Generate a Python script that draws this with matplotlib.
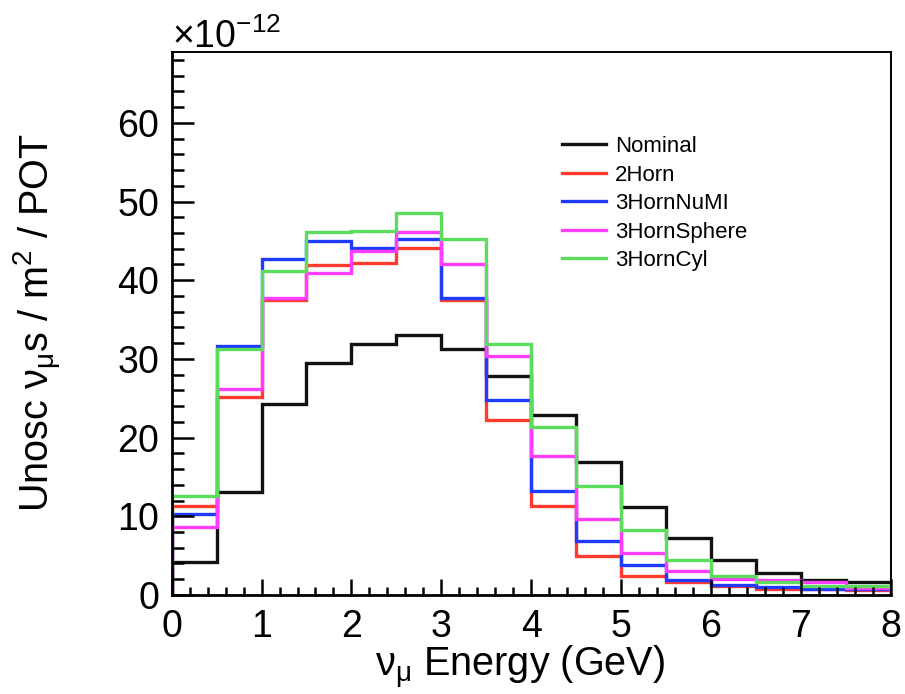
import numpy as np
import matplotlib
matplotlib.use('Agg')
import matplotlib.pyplot as plt
from matplotlib.lines import Line2D
from matplotlib.ticker import MultipleLocator

plt.rcParams['font.family'] = ['Liberation Sans', 'DejaVu Sans']
plt.rcParams['mathtext.fontset'] = 'custom'
plt.rcParams['mathtext.rm'] = 'Liberation Sans'
plt.rcParams['mathtext.it'] = 'Liberation Sans:italic'
plt.rcParams['mathtext.default'] = 'regular'

# 0.5 GeV bins from 0 to 8 GeV
edges = np.arange(0, 8.01, 0.5)

# unoscillated numu flux per m^2 per POT, in units of 1e-12
nominal = [4.2, 13.1, 24.3, 29.5, 31.9, 33.0, 31.2, 27.8, 22.9, 16.9, 11.2, 7.2, 4.4, 2.85, 1.9, 1.6]
two_horn = [11.3, 25.1, 37.5, 41.9, 42.2, 44.1, 37.5, 22.3, 11.3, 4.9, 2.4, 1.6, 1.1, 0.7, 0.7, 0.6]
three_horn_numi = [10.3, 31.6, 42.7, 45.0, 44.1, 45.3, 37.8, 24.8, 13.2, 6.9, 3.8, 1.9, 1.3, 1.0, 0.8, 0.7]
three_horn_sphere = [8.6, 26.2, 37.7, 40.9, 43.7, 46.1, 42.1, 30.4, 17.6, 9.7, 5.3, 3.0, 2.0, 1.9, 1.6, 0.9]
three_horn_cyl = [12.55, 31.2, 41.2, 46.1, 46.2, 48.5, 45.2, 31.9, 21.4, 13.8, 8.2, 4.4, 2.4, 1.6, 1.2, 1.1]

names = ['Nominal', '2Horn', '3HornNuMI', '3HornSphere', '3HornCyl']
colors = ['#111111', '#ff3b2f', '#1f3bff', '#ff3cff', '#5cdc5c']
series = [nominal, two_horn, three_horn_numi, three_horn_sphere, three_horn_cyl]

fig = plt.figure(figsize=(9.05, 6.94), dpi=100)
ax = fig.add_axes([0.1897, 0.1427, 0.7945, 0.7823])

for vals, col in zip(series, colors):
    ax.stairs(np.array(vals) * 1e-12, edges, color=col, lw=2.4)

ax.set_xlim(0, 8)
ax.set_ylim(0, 69e-12)

ax.xaxis.set_major_locator(MultipleLocator(1))
ax.xaxis.set_minor_locator(MultipleLocator(0.2))
ax.yaxis.set_major_locator(MultipleLocator(10e-12))
ax.yaxis.set_minor_locator(MultipleLocator(2e-12))
ax.ticklabel_format(axis='y', style='sci', scilimits=(-12, -12), useMathText=True)
ax.yaxis.get_offset_text().set_fontsize(27)

ax.tick_params(which='both', direction='in', top=False, right=False, width=1.8, labelsize=27)
ax.tick_params(axis='y', which='major', length=15.5, pad=9)
ax.tick_params(axis='y', which='minor', length=8.5)
ax.tick_params(axis='x', which='major', length=11.5, pad=10)
ax.tick_params(axis='x', which='minor', length=6)
for side in ['left', 'bottom']:
    ax.spines[side].set_linewidth(2.0)
for side in ['top', 'right']:
    ax.spines[side].set_linewidth(1.4)

ax.set_xlabel('ν$_{μ}$ Energy (GeV)', fontsize=28.5)
ax.set_ylabel('Unosc ν$_{μ}$s / m$^{2}$ / POT', fontsize=28.5)
ax.xaxis.set_label_coords(0.484, -0.091)
ax.yaxis.set_label_coords(-0.15, 0.502)

handles = [Line2D([], [], color=c, lw=2.4) for c in colors]
ax.legend(handles, names, loc='upper left', bbox_to_anchor=(0.621, 0.804),
          bbox_transform=fig.transFigure, frameon=False, fontsize=16,
          handlelength=2.0, handletextpad=0.4, labelspacing=0.34,
          borderpad=0, borderaxespad=0)

fig.savefig('out.png', dpi=100)
